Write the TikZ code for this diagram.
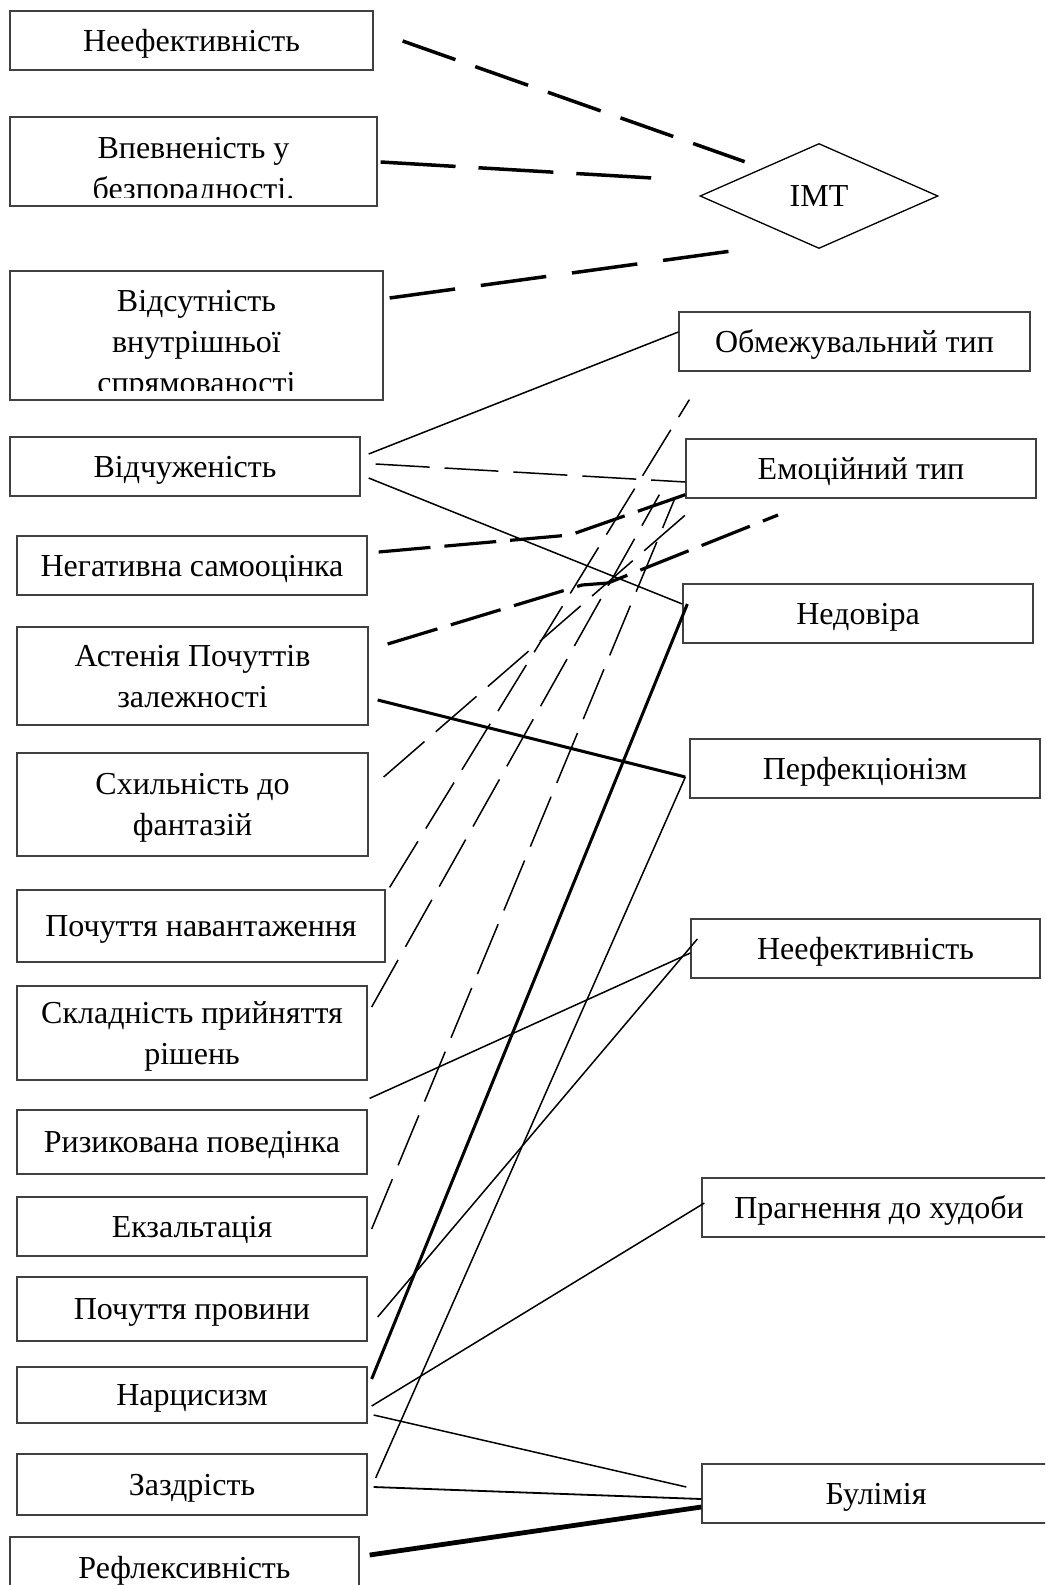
\documentclass[tikz,border=0pt]{standalone}
\usepackage{fontspec}
\setmainfont{Liberation Serif}
\usetikzlibrary{shapes.geometric}

\begin{document}
\begin{tikzpicture}[x=0.5pt,y=-0.5pt,
  box/.style={draw=black!75, line width=0.65pt, rectangle, align=center,
    font=\fontsize{16}{20.5}\selectfont, inner sep=0pt, text depth=0pt},
  lbl/.style={align=center, font=\fontsize{16}{20.5}\selectfont, inner sep=0pt, text depth=0pt},
  imtlink/.style={line width=1.75pt, dash pattern=#1},
  bolddash/.style={line width=1.6pt, dash pattern=on 26pt off 7pt},
  thindash/.style={line width=0.75pt, dash pattern=on 27pt off 7.5pt},
  thin/.style={line width=0.75pt},
  heavy/.style={line width=1.5pt}]
  \clip (0,0) rectangle (1045,1585);
  % left column
  \node[box, minimum width=181.5pt, minimum height=29.5pt] (neef) at (191.5,40.5) {Неефективність};
  \node[box, minimum width=183.5pt, minimum height=44.5pt] (vpev) at (193.5,161.5) {};
  \begin{scope}
    \clip (vpev.north west) rectangle ([shift={(0,-9)}]vpev.south east);
    \node[lbl] (vpevtext) at (193.5,168) {Впевненість у\\безпорадності.};
  \end{scope}
  \node[box, minimum width=186.5pt, minimum height=64.5pt] (vids) at (196.5,335.5) {};
  \begin{scope}
    \clip (vids.north west) rectangle ([shift={(0,-10)}]vids.south east);
    \node[lbl] (vidstext) at (196.5,342) {Відсутність\\внутрішньої\\спрямованості};
  \end{scope}
  \node[box, minimum width=175pt, minimum height=29.5pt] (vidch) at (185,466.5) {Відчуженість};
  \node[box, minimum width=175pt, minimum height=29.5pt] (neg) at (192,565.5) {Негативна самооцінка};
  \node[box, minimum width=175.5pt, minimum height=49pt] (ast) at (192.5,676) {Астенія Почуттів\\залежності};
  \node[box, minimum width=175.5pt, minimum height=51.5pt] (skh) at (192.5,804.5) {Схильність до\\фантазій};
  \node[box, minimum width=184pt, minimum height=36pt] (nav) at (201,926) {Почуття навантаження};
  \node[box, minimum width=175pt, minimum height=47pt] (skl) at (192,1033) {Складність прийняття\\рішень};
  \node[box, minimum width=175pt, minimum height=32pt] (ryz) at (192,1142) {Ризикована поведінка};
  \node[box, minimum width=175pt, minimum height=29.5pt] (ekz) at (192,1226.5) {Екзальтація};
  \node[box, minimum width=175pt, minimum height=32pt] (prov) at (192,1309) {Почуття провини};
  \node[box, minimum width=175pt, minimum height=28pt] (narc) at (192,1395) {Нарцисизм};
  \node[box, minimum width=175pt, minimum height=30.5pt] (zaz) at (192,1484.5) {Заздрість};
  \node[box, minimum width=174.5pt, minimum height=30pt] (refl) at (184.5,1567) {Рефлексивність};
  % right column
  \node[box, diamond, draw=black, minimum width=119pt, minimum height=52.5pt] (imt) at (819,196) {IMT};
  \node[box, minimum width=175.5pt, minimum height=29.5pt] (obm) at (854.5,341.5) {Обмежувальний тип};
  \node[box, minimum width=175pt, minimum height=29.5pt] (emo) at (861,468.5) {Емоційний тип};
  \node[box, minimum width=175pt, minimum height=29.5pt] (nedov) at (858,613.5) {Недовіра};
  \node[box, minimum width=175pt, minimum height=29.5pt] (perf) at (865,768.5) {Перфекціонізм};
  \node[box, minimum width=174.5pt, minimum height=29.5pt] (neefr) at (865.5,948.5) {Неефективність};
  \node[box, minimum width=177pt, minimum height=29.5pt] (prag) at (879,1207.5) {Прагнення до худоби};
  \node[box, minimum width=174pt, minimum height=29.5pt] (bul) at (876,1493.5) {Булімія};
  \coordinate (negbend) at (570,535);
  \coordinate (astbend) at (582,585);
  \coordinate (astend) at (778,515);
  % links to IMT
  \draw[imtlink={on 28pt off 10.5pt}] ([shift={(29,0.5)}]neef.east) -- ([shift={(-14.5,-7.75)}]imt.north west);
  \draw[imtlink={on 37.5pt off 11.5pt}] ([shift={(3,0.5)}]vpev.east) -- ([shift={(-47,-18)}]imt.west);
  \draw[imtlink={on 33pt off 13pt}] ([shift={(6,-37.5)}]vids.east) -- ([shift={(-74,0)}]imt.south);
  % types
  \draw[thin] ([shift={(8,-12.5)}]vidch.east) -- ([shift={(0,-9.5)}]obm.west);
  \draw[thindash] ([shift={(15,-2.5)}]vidch.east) -- ([shift={(0,13.5)}]emo.west);
  \draw[thin] ([shift={(8,11.5)}]vidch.east) -- ([shift={(0,-9.5)}]nedov.west);
  \draw[bolddash] ([shift={(11,-13.5)}]neg.east) -- (negbend) -- ([shift={(0,-4)}]emo.south west);
  \draw[bolddash] ([shift={(19,-32)}]ast.east) -- (astbend) -- (608,583) -- (astend);
  \draw[heavy] ([shift={(9,24)}]ast.east) -- ([shift={(-4,8.5)}]perf.west);
  \draw[thindash] ([shift={(15,-27.5)}]skh.east) -- ([shift={(5,12)}]emo.south west);
  \draw[thindash] ([shift={(4,-2)}]nav.north east) -- ([shift={(11,28)}]obm.south west);
  \draw[thindash] ([shift={(4,-26)}]skl.east) -- ([shift={(-26,-4)}]emo.south west);
  \draw[thindash] ([shift={(4,2.5)}]ekz.east) -- ([shift={(-11,1)}]emo.south west);
  \draw[thin] ([shift={(2,-11)}]ryz.north east) -- ([shift={(0,4.5)}]neefr.west);
  \draw[thin] ([shift={(10,8)}]prov.east) -- ([shift={(7,-9.5)}]neefr.west);
  \draw[heavy] ([shift={(4,-16)}]narc.east) -- ([shift={(5,-9.5)}]nedov.west);
  \draw[thin] ([shift={(4,11)}]narc.east) -- ([shift={(3,-4.5)}]prag.west);
  \draw[thin] ([shift={(6,20)}]narc.east) -- ([shift={(-15,-6.5)}]bul.west);
  \draw[thin] ([shift={(8,-6.5)}]zaz.east) -- ([shift={(-4,8.5)}]perf.west);
  \draw[thin, line width=0.9pt] ([shift={(6,2.5)}]zaz.east) -- ([shift={(0,5.5)}]bul.west);
  \draw[line width=2.4pt] ([shift={(10,-12)}]refl.east) -- ([shift={(0,13.5)}]bul.west);
\end{tikzpicture}
\end{document}
